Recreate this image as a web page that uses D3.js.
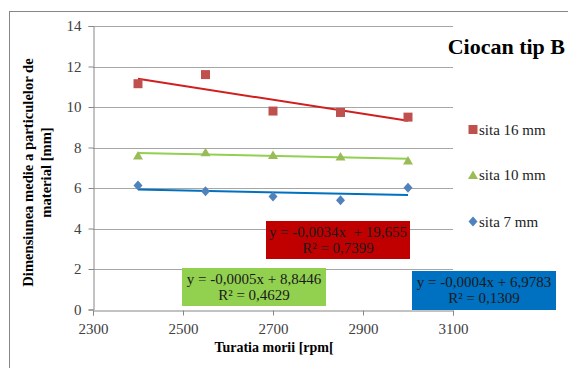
<!DOCTYPE html>
<html>
<head>
<meta charset="utf-8">
<script src="https://cdn.jsdelivr.net/npm/d3@7"></script>
<style>
  html, body { margin: 0; padding: 0; background: #fff; }
  svg { display: block; }
</style>
</head>
<body>
<svg id="chart" width="568" height="368"></svg>
<script>
// Rotor speed (rpm) at which each sample was ground
const speeds = [2400, 2550, 2700, 2850, 3000];

// Mean particle size [mm] for each screen
const sita16 = [11.15, 11.60, 9.80, 9.73, 9.50];
const sita10 = [7.61, 7.76, 7.63, 7.56, 7.36];
const sita7  = [6.12, 5.84, 5.58, 5.40, 6.01];

const seriesNames = ["sita 16 mm", "sita 10 mm", "sita 7 mm"];

// Trendline equations as printed on the chart
const eqLines = ["y = -0,0034x  + 19,655", "y = -0,0005x + 8,8446", "y = -0,0004x + 6,9783"];
const r2Lines = ["R² = 0,7399", "R² = 0,4629", "R² = 0,1309"];

const xTicks = [2300, 2500, 2700, 2900, 3100];
const yTicks = [0, 2, 4, 6, 8, 10, 12, 14];

const SERIF = '"Liberation Serif", serif';

const series = [
  { name: seriesNames[0], values: sita16, marker: "square",   fill: "#C0504D", line: "#D01F1F", box: "#C00000" },
  { name: seriesNames[1], values: sita10, marker: "triangle", fill: "#9BBB59", line: "#92D050", box: "#92D050" },
  { name: seriesNames[2], values: sita7,  marker: "diamond",  fill: "#4F81BD", line: "#0070C0", box: "#0070C0" }
];

const svg = d3.select("#chart");

// every label on the chart is set in the serif face
function serif(sel) { return sel.style("font-family", SERIF); }

// outer chart frame
svg.append("rect")
  .attr("x", 9.5).attr("y", 11.5)
  .attr("width", 600).attr("height", 400)
  .attr("fill", "none").attr("stroke", "#868686").attr("stroke-width", 1);

const x = d3.scaleLinear().domain([2300, 3100]).range([93, 453]);
const y = d3.scaleLinear().domain([0, 14]).range([309.5, 26]);

// horizontal gridlines
svg.append("g").selectAll("line")
  .data(yTicks.filter(d => d > 0))
  .join("line")
  .attr("x1", x(2300)).attr("x2", x(3100))
  .attr("y1", d => Math.round(y(d)) + 0.5).attr("y2", d => Math.round(y(d)) + 0.5)
  .attr("stroke", "#A6A6A6").attr("stroke-width", 1);

// y axis
const yAxis = svg.append("g")
  .attr("transform", `translate(${x(2300) + 0.5},0)`)
  .call(d3.axisLeft(y).tickValues(yTicks).tickSize(5).tickPadding(7).tickFormat(d3.format("d")));
yAxis.attr("font-family", null).attr("font-size", null);
yAxis.select(".domain").attr("stroke", "#868686");
yAxis.selectAll(".tick line").attr("stroke", "#868686");
yAxis.selectAll(".tick text")
  .attr("font-size", 15).attr("fill", "#404040")
  .call(serif);

// x axis
const xAxis = svg.append("g")
  .attr("transform", `translate(0,${Math.round(y(0)) + 0.5})`)
  .call(d3.axisBottom(x).tickValues(xTicks).tickSize(5).tickPadding(8).tickFormat(d3.format("d")));
xAxis.attr("font-family", null).attr("font-size", null);
xAxis.select(".domain").attr("stroke", "#868686");
xAxis.selectAll(".tick line").attr("stroke", "#868686");
xAxis.selectAll(".tick text")
  .attr("font-size", 15).attr("fill", "#404040")
  .call(serif);

// least-squares fit of each series
function fit(xs, ys) {
  const mx = d3.mean(xs), my = d3.mean(ys);
  const sxy = d3.sum(xs, (v, i) => (v - mx) * (ys[i] - my));
  const sxx = d3.sum(xs, v => (v - mx) * (v - mx));
  const slope = sxy / sxx;
  return { slope, intercept: my - slope * mx };
}

// trendlines
series.forEach(s => {
  const f = fit(speeds, s.values);
  const ends = d3.extent(speeds);
  svg.append("path")
    .datum(ends)
    .attr("d", d3.line().x(d => x(d)).y(d => y(f.intercept + f.slope * d)))
    .attr("fill", "none")
    .attr("stroke", s.line)
    .attr("stroke-width", 2);
});

// marker shapes
function markerPath(type, size) {
  const h = size / 2;
  if (type === "square") return `M${-h},${-h}H${h}V${h}H${-h}Z`;
  if (type === "triangle") return `M0,${-h}L${h + 0.5},${h - 0.5}H${-h - 0.5}Z`;
  return `M0,${-h - 0.5}L${h},0L0,${h + 0.5}L${-h},0Z`;
}

series.forEach(s => {
  svg.append("g").selectAll("path")
    .data(s.values)
    .join("path")
    .attr("transform", (d, i) => `translate(${x(speeds[i])},${y(d)})`)
    .attr("d", markerPath(s.marker, 9))
    .attr("fill", s.fill);
});

// title
svg.append("text")
  .attr("x", 565).attr("y", 54)
  .attr("text-anchor", "end")
  .attr("font-size", 22).attr("font-weight", "bold")
  .attr("fill", "#000")
  .call(serif)
  .text("Ciocan tip B");

// legend
const legendY = [129.5, 175, 221.5];
series.forEach((s, i) => {
  const g = svg.append("g").attr("transform", `translate(473,${legendY[i]})`);
  g.append("path").attr("d", markerPath(s.marker, 9)).attr("fill", s.fill);
  g.append("text")
    .attr("x", 6).attr("y", 5)
    .attr("font-size", 15).attr("fill", "#222")
    .call(serif)
    .text(s.name);
});

// equation boxes
const boxes = [
  { x: 266, y: 221, w: 144, h: 38 },
  { x: 182, y: 268, w: 144, h: 38 },
  { x: 412, y: 271, w: 144, h: 39 }
];
series.forEach((s, i) => {
  const b = boxes[i];
  const g = svg.append("g").attr("transform", `translate(${b.x},${b.y})`);
  g.append("rect").attr("width", b.w).attr("height", b.h).attr("fill", s.box);
  g.append("text")
    .attr("x", b.w / 2).attr("y", 16)
    .attr("text-anchor", "middle")
    .attr("font-size", 15).attr("fill", "#1a1a1a")
    .call(serif)
    .style("white-space", "pre")
    .text(eqLines[i]);
  g.append("text")
    .attr("x", b.w / 2).attr("y", 32)
    .attr("text-anchor", "middle")
    .attr("font-size", 15).attr("fill", "#1a1a1a")
    .call(serif)
    .text(r2Lines[i]);
});

// axis titles
svg.append("text")
  .attr("x", 274).attr("y", 352)
  .attr("text-anchor", "middle")
  .attr("font-size", 14).attr("font-weight", "bold")
  .call(serif)
  .text("Turatia morii [rpm[");

const yTitle = svg.append("text")
  .attr("transform", "translate(33,172.5) rotate(-90)")
  .attr("text-anchor", "middle")
  .attr("font-size", 14.6).attr("font-weight", "bold")
  .call(serif);
yTitle.append("tspan").attr("x", 0).attr("y", 0).text("Dimensiunea medie a particulelor de");
yTitle.append("tspan").attr("x", 0).attr("y", 17.5).text("material [mm]");
</script>
</body>
</html>
